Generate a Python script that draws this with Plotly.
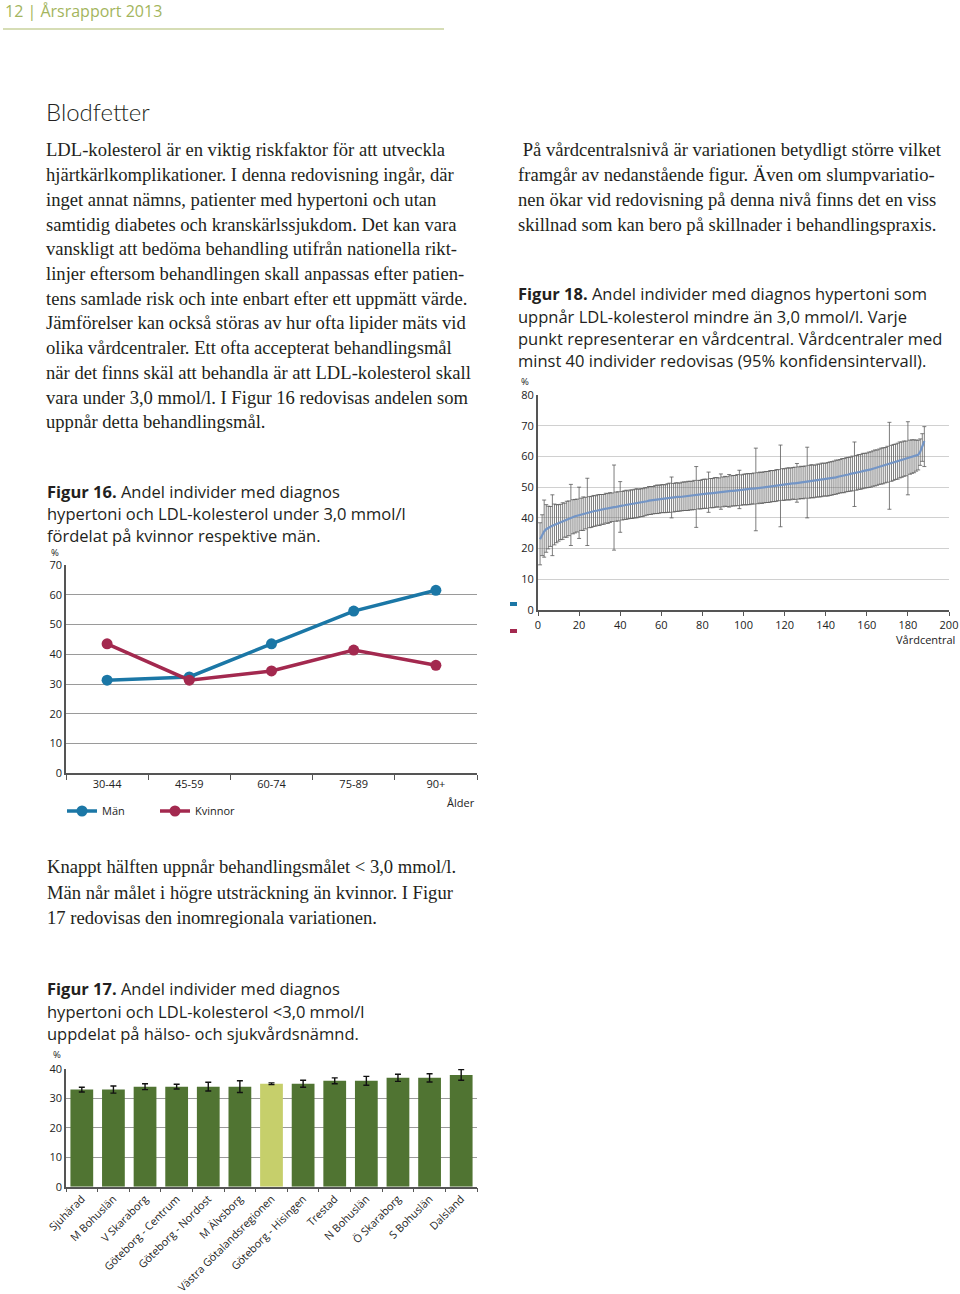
import plotly.graph_objects as go

W, H = 960, 1294


def px(x):
    return x / W


def py(y):
    return 1 - y / H


# ---------------- data ----------------
age_groups = ["30-44", "45-59", "60-74", "75-89", "90+"]
man_vals = [31.3, 32.4, 43.5, 54.5, 61.5]
kvinnor_vals = [43.5, 31.3, 34.4, 41.4, 36.3]

regions = ["Sjuhärad", "M Bohuslän", "V Skaraborg", "Göteborg - Centrum",
           "Göteborg - Nordost", "M Älvsborg", "Västra Götalandsregionen",
           "Göteborg - Hisingen", "Trestad", "N Bohuslän", "Ö Skaraborg",
           "S Bohuslän", "Dalsland"]
region_vals = [33, 33, 34, 34, 34, 34, 35, 35, 36, 36, 37, 37, 38]
region_err = [0.8, 1.2, 1.0, 0.8, 1.5, 2.0, 0.3, 1.2, 1.0, 1.5, 1.2, 1.4, 1.8]

# Figur 18: values in the chart's gridline units (gridlines labelled 0,10,20,40,...,80)
vc_center = [
    23.0, 24.5, 25.6, 26.3, 26.8, 27.1, 27.4, 27.7, 28.0, 28.3,
    28.6, 28.9, 29.2, 29.5, 29.8, 30.0, 30.3, 30.5, 30.7, 30.9,
    31.1, 31.3, 31.5, 31.7, 31.8, 32.0, 32.1, 32.3, 32.4, 32.6,
    32.7, 32.8, 33.0, 33.1, 33.3, 33.4, 33.5, 33.6, 33.8, 33.9,
    34.0, 34.1, 34.2, 34.3, 34.4, 34.5, 34.6, 34.7, 34.8, 34.9,
    35.0, 35.2, 35.4, 35.6, 35.7, 35.8, 35.9, 36.0, 36.1, 36.2,
    36.2, 36.3, 36.4, 36.5, 36.5, 36.6, 36.7, 36.8, 36.8, 36.9,
    37.0, 37.1, 37.1, 37.2, 37.3, 37.4, 37.5, 37.5, 37.6, 37.7,
    37.8, 37.9, 38.0, 38.0, 38.1, 38.2, 38.3, 38.3, 38.4, 38.5,
    38.6, 38.6, 38.7, 38.8, 38.8, 38.9, 39.0, 39.1, 39.1, 39.2,
    39.3, 39.3, 39.4, 39.5, 39.5, 39.6, 39.7, 39.8, 39.8, 39.9,
    40.0, 40.1, 40.2, 40.3, 40.4, 40.5, 40.6, 40.7, 40.8, 40.9,
    41.0, 41.0, 41.1, 41.2, 41.2, 41.3, 41.4, 41.5, 41.5, 41.6,
    41.7, 41.8, 41.9, 41.9, 42.0, 42.1, 42.2, 42.3, 42.4, 42.5,
    42.6, 42.7, 42.9, 43.0, 43.2, 43.4, 43.5, 43.7, 43.8, 44.0,
    44.1, 44.3, 44.4, 44.6, 44.7, 44.9, 45.0, 45.2, 45.3, 45.5,
    45.6, 45.8, 46.0, 46.2, 46.4, 46.6, 46.8, 47.0, 47.2, 47.4,
    47.6, 47.8, 48.0, 48.3, 48.5, 48.8, 49.0, 49.2, 49.4, 49.6,
    49.8, 50.0, 50.1, 50.3, 50.5, 51.5, 53.0, 55.0]
vc_err_up = [
    5.4, 6.5, 10.2, 8.0, 7.0, 6.6, 10.1, 6.8, 6.3, 6.0,
    5.8, 6.0, 5.6, 5.9, 5.7, 10.9, 5.6, 5.5, 5.4, 9.1,
    5.3, 5.5, 5.2, 11.2, 5.1, 5.0, 5.2, 4.9, 5.1, 5.0,
    4.9, 4.8, 5.0, 4.8, 4.9, 4.7, 13.7, 4.8, 4.7, 7.9,
    4.6, 4.7, 4.8, 4.5, 4.7, 4.6, 4.7, 4.8, 4.5, 4.6,
    4.5, 4.6, 4.4, 4.6, 4.5, 4.4, 4.6, 4.7, 4.5, 4.6,
    4.6, 4.5, 4.7, 4.8, 6.8, 4.6, 4.7, 4.6, 4.5, 4.7,
    4.7, 4.6, 4.8, 4.7, 4.6, 4.8, 9.2, 4.7, 4.6, 4.8,
    4.8, 4.7, 6.9, 4.8, 4.7, 4.9, 4.8, 4.7, 5.9, 4.8,
    4.9, 4.8, 5.4, 4.9, 5.0, 4.9, 5.1, 6.4, 4.9, 5.0,
    5.0, 5.1, 5.0, 4.9, 5.1, 13.1, 5.0, 5.1, 5.0, 5.1,
    5.1, 5.0, 5.2, 5.1, 5.0, 5.2, 5.1, 13.0, 5.2, 5.1,
    5.2, 5.3, 5.1, 5.2, 5.3, 6.4, 5.2, 5.3, 5.2, 5.3,
    11.3, 5.3, 5.4, 5.3, 5.2, 5.4, 5.3, 5.5, 5.4, 5.3,
    5.4, 5.5, 5.4, 5.5, 5.6, 5.4, 5.5, 5.6, 5.5, 5.6,
    5.6, 5.5, 5.7, 10.1, 5.6, 5.7, 5.6, 5.8, 5.7, 5.6,
    5.8, 5.7, 5.8, 5.9, 5.7, 5.8, 5.9, 5.8, 5.7, 5.9,
    13.5, 5.8, 5.9, 5.7, 5.8, 5.9, 5.7, 5.8, 5.6, 11.7,
    5.5, 5.4, 5.3, 5.0, 4.8, 4.2, 4.4, 4.7]
vc_err_dn = [
    8.3, 6.8, 8.4, 7.5, 6.9, 6.4, 9.7, 6.5, 6.1, 5.9,
    5.7, 5.9, 5.5, 5.8, 5.6, 9.0, 5.5, 5.4, 5.3, 7.6,
    5.2, 5.4, 5.1, 10.7, 5.0, 5.1, 4.9, 5.0, 4.8, 5.1,
    4.8, 4.9, 4.7, 4.9, 4.8, 4.6, 14.0, 4.7, 4.8, 8.6,
    4.7, 4.6, 4.7, 4.6, 4.6, 4.7, 4.6, 4.7, 4.6, 4.5,
    4.6, 4.5, 4.5, 4.5, 4.6, 4.5, 4.5, 4.6, 4.6, 4.5,
    4.5, 4.6, 4.6, 4.7, 6.5, 4.7, 4.6, 4.7, 4.6, 4.6,
    4.6, 4.7, 4.7, 4.6, 4.7, 4.7, 10.6, 4.6, 4.7, 4.7,
    4.7, 4.8, 6.2, 4.7, 4.8, 4.8, 4.7, 4.8, 5.6, 4.9,
    4.8, 4.9, 5.2, 5.0, 4.9, 5.0, 5.0, 6.1, 5.0, 4.9,
    5.1, 5.0, 5.1, 5.0, 5.0, 13.8, 5.1, 5.0, 5.1, 5.0,
    5.0, 5.1, 5.1, 5.0, 5.1, 5.1, 5.0, 13.6, 5.1, 5.2,
    5.1, 5.2, 5.2, 5.1, 5.2, 6.2, 5.3, 5.2, 5.3, 5.2,
    11.7, 5.4, 5.3, 5.4, 5.3, 5.3, 5.4, 5.4, 5.3, 5.4,
    5.5, 5.4, 5.5, 5.4, 5.5, 5.5, 5.4, 5.5, 5.6, 5.5,
    5.5, 5.6, 5.6, 10.9, 5.7, 5.6, 5.7, 5.7, 5.6, 5.7,
    5.7, 5.8, 5.7, 5.8, 5.8, 5.7, 5.8, 5.9, 5.8, 5.8,
    14.8, 5.9, 5.8, 5.8, 5.9, 5.8, 5.8, 5.7, 5.7, 12.1,
    5.6, 5.5, 5.4, 5.1, 4.9, 4.4, 4.6, 8.3]
vc_index = list(range(1, len(vc_center) + 1))
vc_tickvals = [0, 10, 20, 30, 40, 50, 60, 70]
vc_ticktext = ["0", "10", "20", "40", "50", "60", "70", "80"]

# ---------------- text ----------------
header_text = "12 | Årsrapport 2013"
title_text = "Blodfetter"
left_body = [
    "LDL-kolesterol är en viktig riskfaktor för att utveckla",
    "hjärtkärlkomplikationer. I denna redovisning ingår, där",
    "inget annat nämns, patienter med hypertoni och utan",
    "samtidig diabetes och kranskärlssjukdom. Det kan vara",
    "vanskligt att bedöma behandling utifrån nationella rikt-",
    "linjer eftersom behandlingen skall anpassas efter patien-",
    "tens samlade risk och inte enbart efter ett uppmätt värde.",
    "Jämförelser kan också störas av hur ofta lipider mäts vid",
    "olika vårdcentraler. Ett ofta accepterat behandlingsmål",
    "när det finns skäl att behandla är att LDL-kolesterol skall",
    "vara under 3,0 mmol/l. I Figur 16 redovisas andelen som",
    "uppnår detta behandlingsmål.",
]
right_body = [
    " På vårdcentralsnivå är variationen betydligt större vilket",
    "framgår av nedanstående figur. Även om slumpvariatio-",
    "nen ökar vid redovisning på denna nivå finns det en viss",
    "skillnad som kan bero på skillnader i behandlingspraxis.",
]
mid_body = [
    "Knappt hälften uppnår behandlingsmålet < 3,0 mmol/l.",
    "Män når målet i högre utsträckning än kvinnor. I Figur",
    "17 redovisas den inomregionala variationen.",
]
cap18 = [
    "<b>Figur 18.</b> Andel individer med diagnos hypertoni som",
    "uppnår LDL-kolesterol mindre än 3,0 mmol/l. Varje",
    "punkt representerar en vårdcentral. Vårdcentraler med",
    "minst 40 individer redovisas (95% konfidensintervall).",
]
cap16 = [
    "<b>Figur 16.</b> Andel individer med diagnos",
    "hypertoni och LDL-kolesterol under 3,0 mmol/l",
    "fördelat på kvinnor respektive män.",
]
cap17 = [
    "<b>Figur 17.</b> Andel individer med diagnos",
    "hypertoni och LDL-kolesterol <3,0 mmol/l",
    "uppdelat på hälso- och sjukvårdsnämnd.",
]

SERIF = "Liberation Serif, Times New Roman, serif"
SANS = "Open Sans, Noto Sans, sans-serif"
TXT = "#231f20"
AX = "#555555"

fig = go.Figure()

# ---- Figur 16 ----
fig.add_trace(go.Scatter(
    x=age_groups, y=man_vals, name="Män", mode="lines+markers",
    line=dict(color="#1b77a6", width=3.5), marker=dict(size=11, color="#1b77a6"),
    xaxis="x", yaxis="y"))
fig.add_trace(go.Scatter(
    x=age_groups, y=kvinnor_vals, name="Kvinnor", mode="lines+markers",
    line=dict(color="#a3294f", width=3.5), marker=dict(size=11, color="#a3294f"),
    xaxis="x", yaxis="y"))

# ---- Figur 18 ----
fig.add_trace(go.Scatter(
    x=vc_index, y=vc_center, mode="markers", showlegend=False,
    marker=dict(size=2, color="rgba(0,0,0,0)"),
    error_y=dict(type="data", symmetric=False, array=vc_err_up,
                 arrayminus=vc_err_dn, color="#5c5c5c", thickness=0.8, width=2),
    xaxis="x2", yaxis="y2"))
fig.add_trace(go.Scatter(
    x=vc_index, y=vc_center, mode="lines", showlegend=False,
    line=dict(color="#7395c6", width=2.2),
    xaxis="x2", yaxis="y2"))

# ---- Figur 17 ----
bar_colors = ["#c6cf6b" if r == "Västra Götalandsregionen" else "#507432" for r in regions]
fig.add_trace(go.Bar(
    x=regions, y=region_vals, showlegend=False,
    marker=dict(color=bar_colors, line=dict(width=0)),
    error_y=dict(type="data", array=region_err, color="#111111", thickness=1.4, width=3),
    xaxis="x3", yaxis="y3"))

tickfont = dict(family=SANS, size=11, color="#222")

layout = dict(
    width=W, height=H, margin=dict(l=0, r=0, t=0, b=0, autoexpand=False),
    paper_bgcolor="white", plot_bgcolor="rgba(0,0,0,0)",
    showlegend=True, bargap=0.28,
    legend=dict(orientation="h", x=px(62), y=py(811), xanchor="left", yanchor="middle",
                font=dict(family=SANS, size=11, color="#222"),
                entrywidth=48, entrywidthmode="pixels", bgcolor="rgba(0,0,0,0)"),
    xaxis=dict(domain=[px(66), px(477)], anchor="y", type="category",
               range=[-0.5, 4.5], tickson="boundaries", ticks="outside", ticklen=5,
               tickcolor=AX, showline=True, linecolor=AX, linewidth=1.5,
               showgrid=False, tickfont=tickfont, automargin=False),
    yaxis=dict(domain=[py(773.3), py(565)], anchor="x", range=[0, 70], dtick=10,
               showgrid=True, gridcolor="#9a9a9a", gridwidth=1.3, showline=True,
               linecolor=AX, linewidth=1.5, zeroline=False, ticks="",
               tickfont=tickfont, automargin=False),
    xaxis2=dict(domain=[px(538), px(949)], anchor="y2", range=[0, 200], dtick=20,
                ticks="outside", ticklen=4, tickcolor=AX, showline=True,
                linecolor=AX, linewidth=1.5, showgrid=False, zeroline=False,
                tickfont=tickfont, automargin=False),
    yaxis2=dict(domain=[py(610), py(395)], anchor="x2", range=[0, 70],
                tickvals=vc_tickvals, ticktext=vc_ticktext, showgrid=True,
                gridcolor="#d0d0d0", gridwidth=1.2, showline=True, linecolor=AX,
                linewidth=2, zeroline=False, ticks="", tickfont=tickfont,
                automargin=False),
    xaxis3=dict(domain=[px(66), px(477)], anchor="y3", type="category",
                tickson="boundaries", ticks="outside", ticklen=4, tickcolor=AX,
                showline=True, linecolor=AX, linewidth=1.5, showgrid=False,
                tickangle=-45, tickfont=dict(family=SANS, size=10.8, color="#222"),
                automargin=False),
    yaxis3=dict(domain=[py(1186.7), py(1069)], anchor="x3", range=[0, 40], dtick=10,
                showgrid=True, gridcolor="#9a9a9a", gridwidth=1.3, showline=True,
                linecolor=AX, linewidth=1.5, zeroline=False, ticks="",
                tickfont=tickfont, automargin=False),
)
fig.update_layout(**layout)

ann = []


def add_lines(lines, x, y0, dy, font):
    for i, t in enumerate(lines):
        ann.append(dict(text=t, x=px(x), y=py(y0 + i * dy), xref="paper", yref="paper",
                        xanchor="left", yanchor="middle", showarrow=False, font=font))


body_font = dict(family=SERIF, size=18.6, color=TXT)
cap_font = dict(family=SANS, size=16.5, color=TXT)

ann.append(dict(text=header_text, x=px(3), y=py(11), xref="paper", yref="paper",
                xanchor="left", yanchor="middle", showarrow=False,
                font=dict(family=SANS, size=16, color="#a3b55d")))
ann.append(dict(text=title_text, x=px(44), y=py(112), xref="paper", yref="paper",
                xanchor="left", yanchor="middle", showarrow=False,
                font=dict(family="Lato, Open Sans, sans-serif", size=24, color=TXT, weight=300)))
add_lines(left_body, 44, 150, 24.7, body_font)
add_lines(right_body, 516, 150, 24.9, body_font)
add_lines(mid_body, 45, 867, 25, body_font)
add_lines(cap18, 516, 294, 22, cap_font)
add_lines(cap16, 45, 491, 22, cap_font)
add_lines(cap17, 45, 989, 22, cap_font)

small = dict(family=SANS, size=9.5, color="#222")
for (t, x, y) in [("%", 49, 552), ("%", 519, 381), ("%", 51, 1054)]:
    ann.append(dict(text=t, x=px(x), y=py(y), xref="paper", yref="paper",
                    xanchor="left", yanchor="middle", showarrow=False, font=small))
for (t, x, y) in [("Ålder", 477, 802), ("Vårdcentral", 957, 640)]:
    ann.append(dict(text=t, x=px(x), y=py(y), xref="paper", yref="paper",
                    xanchor="right", yanchor="middle", showarrow=False,
                    font=dict(family=SANS, size=11, color="#222")))

fig.update_layout(annotations=ann)

shapes = [
    dict(type="line", xref="paper", yref="paper", x0=px(3), x1=px(444), y0=py(29), y1=py(29),
         line=dict(color="#c8d29c", width=1.5)),
    dict(type="rect", xref="paper", yref="paper", x0=px(510), x1=px(517), y0=py(606), y1=py(602),
         fillcolor="#1b77a6", line=dict(width=0)),
    dict(type="rect", xref="paper", yref="paper", x0=px(510), x1=px(517), y0=py(633), y1=py(629),
         fillcolor="#a3294f", line=dict(width=0)),
]
fig.update_layout(shapes=shapes)

fig.write_html("out.html", config={"displayModeBar": False},
               post_script="document.body.style.margin='0';document.body.style.overflow='hidden';")
